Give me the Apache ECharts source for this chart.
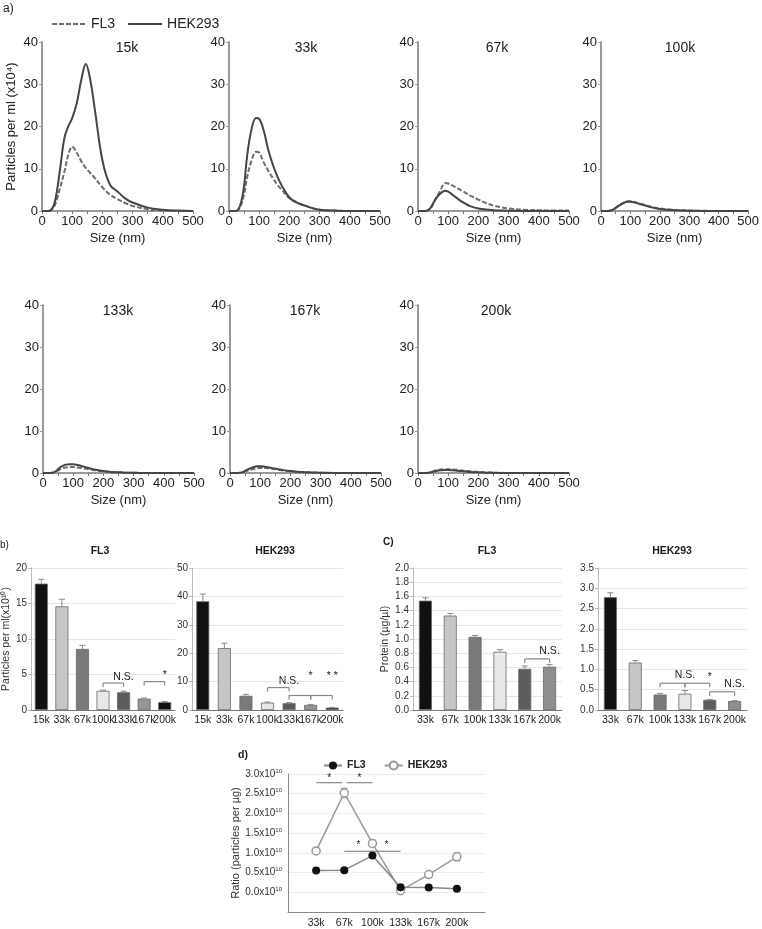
<!DOCTYPE html>
<html><head><meta charset="utf-8">
<script src="https://cdn.jsdelivr.net/npm/echarts@6/dist/echarts.min.js"></script>
<style>html,body{margin:0;padding:0;background:#fff}#c{width:762px;height:929px}</style>
</head><body><div id="c"></div>
<script>
// ---------------- DATA ----------------
// a) size distributions (x = size in nm, y = particles per ml x10^4)
const sizeNm = [0,20,30,40,50,60,75,90,100,115,130,145,160,175,200,225,250,275,300,350,400,450,500];
const panelLabels = ['15k','33k','67k','100k','133k','167k','200k'];
const fl3_15k  = [0,0,0.2,1,3,5.5,9.5,14,15.2,13.8,11.8,10.2,9,7.8,5.6,3.9,2.8,1.9,1.2,0.4,0.1,0,0];
const hek_15k  = [0,0,0.3,1.5,5,10,17.5,20.5,22,25.5,31,34.8,31,24,12,6.2,4.6,3,2,0.8,0.3,0.1,0];
const fl3_33k  = [0,0,0.2,1.5,4,8,12,14,13.8,11.5,9.5,7.8,6.2,5,3,2,1.3,0.7,0.3,0.1,0,0,0];
const hek_33k  = [0,0,0.3,2,6,13,19.5,22,21.8,19,14.5,11,8.2,6,3.2,2,1.3,0.7,0.3,0.1,0,0,0];
const fl3_67k  = [0,0,0.1,0.5,1.6,3,5,6.6,6.5,6,5.4,4.8,4.2,3.6,2.7,1.9,1.3,0.9,0.6,0.3,0.2,0.1,0.1];
const hek_67k  = [0,0,0.1,0.6,1.8,3,4.2,4.8,4.6,3.8,3,2.2,1.6,1.1,0.6,0.35,0.2,0.1,0.05,0,0,0,0];
const fl3_100k = [0,0,0.05,0.3,0.8,1.3,1.9,2.3,2.3,2.1,1.8,1.5,1.2,0.95,0.6,0.4,0.25,0.15,0.1,0.05,0,0,0];
const hek_100k = [0,0,0.05,0.3,0.7,1.2,1.8,2.2,2.2,2,1.7,1.4,1.1,0.8,0.5,0.3,0.2,0.1,0.05,0,0,0,0];
const fl3_133k = [0,0,0.05,0.2,0.6,1.0,1.3,1.4,1.4,1.3,1.15,1.0,0.8,0.6,0.4,0.25,0.15,0.08,0.05,0,0,0,0];
const hek_133k = [0,0,0.05,0.3,0.9,1.5,2.0,2.1,2.1,1.9,1.6,1.3,1.0,0.75,0.45,0.25,0.15,0.08,0.05,0,0,0,0];
const fl3_167k = [0,0,0.02,0.1,0.35,0.6,0.9,1.1,1.2,1.2,1.1,0.95,0.8,0.6,0.4,0.25,0.15,0.1,0.05,0,0,0,0];
const hek_167k = [0,0,0.03,0.15,0.5,0.9,1.3,1.6,1.6,1.5,1.3,1.1,0.9,0.7,0.45,0.3,0.2,0.1,0.05,0,0,0,0];
const fl3_200k = [0,0,0.02,0.15,0.4,0.65,0.85,0.9,0.9,0.85,0.75,0.6,0.5,0.4,0.25,0.15,0.08,0.04,0,0,0,0,0];
const hek_200k = [0,0,0.02,0.1,0.3,0.5,0.65,0.7,0.7,0.65,0.55,0.45,0.35,0.25,0.15,0.08,0.04,0,0,0,0,0,0];

// b) particles per ml (x10^10)
const catsB = ['15k','33k','67k','100k','133k','167k','200k'];
const fl3Particles    = [17.8,14.6,8.6,2.7,2.5,1.6,1.1];
const fl3ParticlesErr = [0.6,1.0,0.5,0.1,0.15,0.1,0.1];
const hekParticles    = [38.3,21.8,5.0,2.6,2.4,1.8,0.8];
const hekParticlesErr = [2.5,1.7,0.5,0.2,0.2,0.1,0.1];

// c) protein (ug/ul)
const catsC = ['33k','67k','100k','133k','167k','200k'];
const fl3Protein    = [1.54,1.33,1.03,0.82,0.58,0.61];
const fl3ProteinErr = [0.04,0.03,0.02,0.03,0.04,0.03];
const hekProtein    = [2.78,1.17,0.38,0.40,0.25,0.22];
const hekProteinErr = [0.11,0.05,0.03,0.08,0.01,0.01];

// d) ratio (particles per ug, x10^10)
const ratioCats   = ['33k','67k','100k','133k','167k','200k'];
const fl3Ratio    = [0.55,0.56,0.93,0.13,0.12,0.09];
const fl3RatioErr = [0.02,0.02,0.03,0.02,0.01,0.01];
const hekRatio    = [1.05,2.52,1.24,0.04,0.45,0.9];
const hekRatioErr = [0.02,0.12,0.08,0.02,0.02,0.1];

// significance annotations: [fromCat, toCat, lineLevel, textLevel, label]
const sigB_FL3 = [[3,4,3.8,4.7,'N.S.'],[5,6,4.0,4.9,'*']];
const sigB_HEK = [[3,4,7.9,10,'N.S.'],[4,5,5.1,11.8,'*'],[5,6,5.1,11.8,'* *']];
const sigC_FL3 = [[4,5,0.72,0.83,'N.S.']];
const sigC_HEK = [[2,3,0.66,0.85,'N.S.'],[3,4,0.66,0.82,'*'],[4,5,0.45,0.64,'N.S.']];
const sigD     = [[1,1.92,2.78,2.9,'*'],[2.08,3,2.78,2.9,'*'],[2,3,1.04,1.19,'*'],[3,4,1.04,1.19,'*']];

// ---------------- STYLE / LAYOUT ----------------
const FONT = 'Liberation Sans, Arial, Helvetica, sans-serif';
const barColorsB = ['#111111','#c6c6c6','#7a7a7a','#e8e8e8','#5c5c5c','#959595','#111111'];
const barColorsC = ['#111111','#c6c6c6','#7a7a7a','#e8e8e8','#5c5c5c','#8e8e8e'];

const curveSets = [[fl3_15k,hek_15k],[fl3_33k,hek_33k],[fl3_67k,hek_67k],[fl3_100k,hek_100k],
                   [fl3_133k,hek_133k],[fl3_167k,hek_167k],[fl3_200k,hek_200k]];
const aLefts = [42,229,418,601,43,230,418];
const aTitleX = [127,306,497,680,118,305,496];

const grids=[], xAxes=[], yAxes=[], series=[], texts=[];

function txt(t,x,y,size,bold,align){
  texts.push({type:'text',x:x,y:y,silent:true,style:{text:t,fill:'#1a1a1a',
    font:(bold?'bold ':'')+size+'px '+FONT,align:align||'center',verticalAlign:'middle'}});
}

// a) panels
for(let i=0;i<7;i++){
  const top = i<4 ? 42 : 305;
  grids.push({left:aLefts[i],top:top,width:151,height:i<4?169:168});
  xAxes.push({gridIndex:i,type:'value',min:0,max:500,interval:100,
    name:'Size (nm)',nameLocation:'middle',nameGap:21,
    nameTextStyle:{fontSize:13,color:'#222',fontFamily:FONT},
    axisLine:{show:true,onZero:false,lineStyle:{color:'#7a7a7a',width:1.5}},
    axisTick:{show:true,length:3,lineStyle:{color:'#7a7a7a'}},
    minorTick:{show:true,splitNumber:2,length:3,lineStyle:{color:'#7a7a7a'}},
    splitLine:{show:false},
    axisLabel:{fontSize:13,color:'#222',margin:4,fontFamily:FONT}});
  yAxes.push({gridIndex:i,type:'value',min:0,max:40,interval:10,
    name:i===0?'Particles per ml (x10\u2074)':'',nameLocation:'middle',nameGap:24,
    nameTextStyle:{fontSize:13,color:'#222',fontFamily:FONT},
    axisLine:{show:true,lineStyle:{color:'#9a9a9a',width:2}},
    axisTick:{show:true,length:3,lineStyle:{color:'#9a9a9a'}},
    splitLine:{show:false},
    axisLabel:{fontSize:13,color:'#222',margin:4,fontFamily:FONT}});
  series.push({type:'line',name:'FL3',xAxisIndex:i,yAxisIndex:i,smooth:0.4,symbol:'none',
    data:sizeNm.map((s,k)=>[s,curveSets[i][0][k]]),
    lineStyle:{color:'#6e6e6e',width:2,type:[5,2]},itemStyle:{color:'#6e6e6e'}});
  series.push({type:'line',name:'HEK293',xAxisIndex:i,yAxisIndex:i,smooth:0.4,symbol:'none',
    data:sizeNm.map((s,k)=>[s,curveSets[i][1][k]]),
    lineStyle:{color:'#454545',width:2},itemStyle:{color:'#454545'}});
  txt(panelLabels[i],aTitleX[i],top+6,14,false);
}

// helpers for bar panels
function errSeries(gi,data,cap,color,both){
  return {type:'custom',xAxisIndex:gi,yAxisIndex:gi,silent:true,z:4,data:data,
    renderItem:function(params,api){
      const x=api.value(0), lo=api.value(1), hi=api.value(2);
      const p0=api.coord([x,lo]), p1=api.coord([x,hi]);
      const st={stroke:color,lineWidth:1};
      const ch=[{type:'line',shape:{x1:p0[0],y1:p0[1],x2:p1[0],y2:p1[1]},style:st},
                {type:'line',shape:{x1:p1[0]-cap/2,y1:p1[1],x2:p1[0]+cap/2,y2:p1[1]},style:st}];
      if(both) ch.push({type:'line',shape:{x1:p0[0]-cap/2,y1:p0[1],x2:p0[0]+cap/2,y2:p0[1]},style:st});
      return {type:'group',children:ch};
    }};
}
function sigSeries(gi,sig,tips,fs){
  return {type:'custom',xAxisIndex:gi,yAxisIndex:gi,silent:true,z:6,
    data:sig.map(d=>[d[0],d[1],d[2],d[3]]),
    renderItem:function(params,api){
      const d=sig[params.dataIndex];
      const a=api.coord([d[0],d[2]]), b=api.coord([d[1],d[2]]), t=api.coord([(d[0]+d[1])/2,d[3]]);
      const st={stroke:'#888',lineWidth:1.2};
      const ch=[{type:'line',shape:{x1:a[0],y1:a[1],x2:b[0],y2:b[1]},style:st}];
      if(tips){
        ch.push({type:'line',shape:{x1:a[0],y1:a[1],x2:a[0],y2:a[1]+4},style:st});
        ch.push({type:'line',shape:{x1:b[0],y1:b[1],x2:b[0],y2:b[1]+4},style:st});
      }
      ch.push({type:'text',x:t[0],y:t[1],style:{text:d[4],fill:'#222',font:fs+'px '+FONT,align:'center',verticalAlign:'middle'}});
      return {type:'group',children:ch};
    }};
}
function barPanel(gi,box,cats,vals,errs,colors,yopt,yname,nameGap,fmt,sig,barW){
  grids.push(box);
  xAxes.push({gridIndex:gi,type:'category',data:cats,
    axisLine:{show:true,lineStyle:{color:'#777',width:1}},axisTick:{show:false},
    axisLabel:{interval:0,fontSize:10.5,color:'#222',margin:5,fontFamily:FONT}});
  yAxes.push(Object.assign({gridIndex:gi,type:'value',
    name:yname,nameLocation:'middle',nameGap:nameGap,
    nameTextStyle:{fontSize:10.5,color:'#333',fontFamily:FONT},
    axisLine:{show:true,lineStyle:{color:'#bbb'}},
    axisTick:{show:true,length:3,lineStyle:{color:'#bbb'}},
    splitLine:{show:true,lineStyle:{color:'#e6e6e6'}},
    axisLabel:{fontSize:10,color:'#333',margin:4,fontFamily:FONT,formatter:fmt}},yopt));
  series.push({type:'bar',xAxisIndex:gi,yAxisIndex:gi,barWidth:barW,silent:true,z:3,
    data:vals.map((v,i)=>({value:v,itemStyle:{color:colors[i]}})),
    itemStyle:{borderColor:'#6a6a6a',borderWidth:0.8}});
  series.push(errSeries(gi,vals.map((v,i)=>[i,v,v+errs[i]]),6,'#888',false));
  series.push(sigSeries(gi,sig,true,10.5));
}
const bTop=568, bH=142;
barPanel(7,{left:27,top:bTop,width:148,height:bH},catsB,fl3Particles,fl3ParticlesErr,barColorsB,
  {min:0,max:20,interval:5},'Particles per ml(x10\u00B9\u2070)',17,null,sigB_FL3,13);
barPanel(8,{left:192,top:bTop,width:151,height:bH},catsB,hekParticles,hekParticlesErr,barColorsB,
  {min:0,max:50,interval:10},'',20,null,sigB_HEK,13);
barPanel(9,{left:413,top:bTop,width:149,height:bH},catsC,fl3Protein,fl3ProteinErr,barColorsC,
  {min:0,max:2,interval:0.2},'Protein (\u00B5g/\u00B5l)',22,v=>v.toFixed(1),sigC_FL3,13);
barPanel(10,{left:598,top:bTop,width:149,height:bH},catsC,hekProtein,hekProteinErr,barColorsC,
  {min:0,max:3.5,interval:0.5},'',20,v=>v.toFixed(1),sigC_HEK,13);

// d) ratio panel
grids.push({left:288,top:774,width:197,height:143});
xAxes.push({gridIndex:11,type:'value',min:0,max:7,interval:1,
  axisLine:{show:true,onZero:false,lineStyle:{color:'#888'}},axisTick:{show:false},splitLine:{show:false},
  axisLabel:{fontSize:10.5,color:'#222',margin:6,fontFamily:FONT,formatter:v=>ratioCats[v-1]||''}});
yAxes.push({gridIndex:11,type:'value',min:-0.5,max:3,interval:0.5,
  name:'Ratio (particles per \u00B5g)',nameLocation:'middle',nameGap:46,
  nameTextStyle:{fontSize:11,color:'#333',fontFamily:FONT},
  axisLine:{show:true,lineStyle:{color:'#888'}},axisTick:{show:false},
  splitLine:{show:true,lineStyle:{color:'#ececec'}},
  axisLabel:{margin:6,
    formatter:v=>v<0?'':'{n|'+v.toFixed(1)+'x10}{s|10}',
    rich:{n:{fontSize:10,color:'#333',fontFamily:FONT,lineHeight:12},
          s:{fontSize:6,color:'#333',fontFamily:FONT,lineHeight:7,verticalAlign:'top'}}}});
series.push(errSeries(11,hekRatio.map((v,i)=>[i+1,v-hekRatioErr[i],v+hekRatioErr[i]]),7,'#999',true));
series.push(errSeries(11,fl3Ratio.map((v,i)=>[i+1,v-fl3RatioErr[i],v+fl3RatioErr[i]]),7,'#555',true));
series.push({type:'line',name:'HEK293 ',xAxisIndex:11,yAxisIndex:11,symbol:'circle',symbolSize:8,z:5,
  data:hekRatio.map((v,i)=>[i+1,v]),lineStyle:{color:'#9a9a9a',width:1.5},
  itemStyle:{color:'#fff',borderColor:'#9a9a9a',borderWidth:1.5}});
series.push({type:'line',name:'FL3 ',xAxisIndex:11,yAxisIndex:11,symbol:'circle',symbolSize:8,z:6,
  data:fl3Ratio.map((v,i)=>[i+1,v]),lineStyle:{color:'#888',width:1.5},
  itemStyle:{color:'#111'}});
series.push(sigSeries(11,sigD,false,10));

// titles and panel letters
txt('a)',3,9,12,false,'left');
txt('b)',0,545,10,false,'left');
txt('FL3',100,551,10.5,true);
txt('HEK293',275,551,10.5,true);
txt('C)',383,542,10,true,'left');
txt('FL3',487,551,10.5,true);
txt('HEK293',672,551,10.5,true);
txt('d)',238,755,10.5,true,'left');

const chart = echarts.init(document.getElementById('c'),null,{renderer:'canvas'});
chart.setOption({
  animation:false,
  backgroundColor:'#fff',
  textStyle:{fontFamily:FONT},
  grid:grids, xAxis:xAxes, yAxis:yAxes, series:series,
  legend:[
    {data:['FL3','HEK293'],left:46,top:12,itemWidth:34,itemHeight:12,itemGap:12,
     itemStyle:{opacity:0},
     textStyle:{fontSize:14,color:'#222',fontFamily:FONT},selectedMode:false},
    {data:['FL3 ','HEK293 '],left:318,top:755,itemWidth:18,itemHeight:10,itemGap:18,
     formatter:n=>n.trim(),textStyle:{fontSize:10.5,fontWeight:'bold',color:'#222',fontFamily:FONT},selectedMode:false}
  ],
  graphic:texts
});
</script></body></html>
